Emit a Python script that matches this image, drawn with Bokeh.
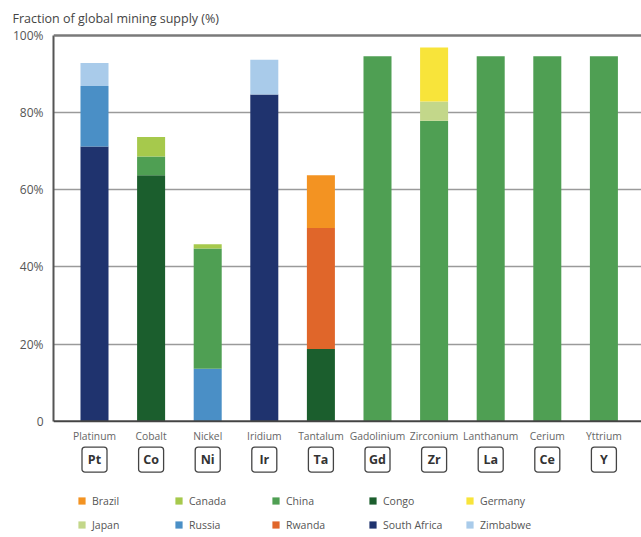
from bokeh.plotting import figure
from bokeh.models import (ColumnDataSource, FixedTicker, Range1d, Span,
                          Legend, LegendItem)
from bokeh.core.properties import value
from bokeh.embed import file_html
from bokeh.resources import INLINE

# ---------------- data ----------------
elements = ["Platinum", "Cobalt", "Nickel", "Iridium", "Tantalum",
            "Gadolinium", "Zirconium", "Lanthanum", "Cerium", "Yttrium"]
symbols = ["Pt", "Co", "Ni", "Ir", "Ta", "Gd", "Zr", "La", "Ce", "Y"]

south_africa = [71.2, 0, 0, 84.7, 0, 0, 0, 0, 0, 0]
congo        = [0, 63.8, 0, 0, 18.7, 0, 0, 0, 0, 0]
russia       = [15.7, 0, 13.6, 0, 0, 0, 0, 0, 0, 0]
china        = [0, 4.8, 31.2, 0, 0, 94.6, 77.9, 94.6, 94.6, 94.6]
rwanda       = [0, 0, 0, 0, 31.4, 0, 0, 0, 0, 0]
japan        = [0, 0, 0, 0, 0, 0, 5.0, 0, 0, 0]
canada       = [0, 5.1, 1.1, 0, 0, 0, 0, 0, 0, 0]
brazil       = [0, 0, 0, 0, 13.7, 0, 0, 0, 0, 0]
germany      = [0, 0, 0, 0, 0, 0, 14.0, 0, 0, 0]
zimbabwe     = [6.0, 0, 0, 9.0, 0, 0, 0, 0, 0, 0]

y_ticks = [0, 20, 40, 60, 80, 100]
y_tick_labels = ["0", "20%", "40%", "60%", "80%", "100%"]

legend_order = ["Brazil", "Canada", "China", "Congo", "Germany",
                "Japan", "Russia", "Rwanda", "South Africa", "Zimbabwe"]

# stacking order (bottom to top) and colours
stack_names = ["South Africa", "Congo", "Russia", "China", "Rwanda",
               "Japan", "Canada", "Brazil", "Germany", "Zimbabwe"]
stack_values = [south_africa, congo, russia, china, rwanda,
                japan, canada, brazil, germany, zimbabwe]
colors = {
    "Brazil": "#f39322",
    "Canada": "#a6c94c",
    "China": "#4f9f53",
    "Congo": "#1b5e2d",
    "Germany": "#f8e43a",
    "Japan": "#c3d78a",
    "Russia": "#4a8fc6",
    "Rwanda": "#e0662a",
    "South Africa": "#1f336e",
    "Zimbabwe": "#a9cbea",
}

# ---------------- layout constants ----------------
W, H = 641, 537
frame_left = 53
frame_top = 32
first_center = 94.0
pitch = 56.6
y0_px, y100_px = 420.5, 34.0
ppu = (y0_px - y100_px) / 100.0

x_start = (frame_left - first_center) / pitch
x_end = (W - first_center) / pitch
y_end = 100 + (y100_px - frame_top) / ppu
y_start = -(H - y0_px) / ppu

def ydata(px):
    return (y0_px - px) / ppu

xs = list(range(len(elements)))
data = {"x": xs, "name": elements, "sym": symbols}
for n, v in zip(stack_names, stack_values):
    data[n] = v
source = ColumnDataSource(data)

FONT = "Open Sans"

p = figure(width=W, height=H, output_backend="svg", toolbar_location=None,
           x_range=Range1d(x_start, x_end), y_range=Range1d(y_start, y_end),
           x_axis_location=None, min_border_left=frame_left, min_border_right=0,
           min_border_top=frame_top, min_border_bottom=0,
           title="Fraction of global mining supply (%)")
p.title.align = "left"
p.title.offset = 12 - frame_left
p.title.standoff = 14
p.title.text_font = FONT
p.title.text_font_size = "12.5px"
p.title.text_font_style = "normal"
p.title.text_color = "#444444"

p.outline_line_color = None
p.xgrid.visible = False
p.background_fill_color = "white"
p.border_fill_color = "white"

# grid
p.ygrid.ticker = FixedTicker(ticks=y_ticks[1:-1])
p.ygrid.grid_line_color = "#9a9a9a"
p.ygrid.grid_line_width = 1.5

# y axis
ax = p.yaxis[0]
ax.ticker = FixedTicker(ticks=y_ticks)
ax.major_label_overrides = {t: l for t, l in zip(y_ticks, y_tick_labels)}
ax.bounds = (0, 100)
ax.axis_line_color = "#555555"
ax.axis_line_width = 2
ax.major_tick_line_color = None
ax.minor_tick_line_color = None
ax.major_label_standoff = 4
ax.major_label_text_font = FONT
ax.major_label_text_font_size = "12px"
ax.major_label_text_color = "#555555"

# bars
renderers = p.vbar_stack(stack_names, x="x", width=0.495, source=source,
                         color=[colors[n] for n in stack_names],
                         line_color=None)
rmap = dict(zip(stack_names, renderers))

# top and bottom lines
p.add_layout(Span(location=100, dimension="width", line_color="#7a7a7a", line_width=2.5))
p.add_layout(Span(location=0, dimension="width", line_color="#444444", line_width=1.8))

# element names
p.text(x="x", y=ydata(435), text="name", source=source, text_align="center",
       text_baseline="middle", text_font=value(FONT), text_font_size="10.3px",
       text_color="#666666")

# element symbol boxes
box = p.rect(x="x", y=ydata(459), width=25, height=25, width_units="screen",
             height_units="screen", source=source, fill_color=None,
             line_color="#444444", line_width=1.3)
try:
    box.glyph.border_radius = 3
except Exception:
    pass
p.text(x="x", y=ydata(459), text="sym", source=source, text_align="center",
       text_baseline="middle", text_font=value(FONT), text_font_size="12.5px",
       text_font_style="bold", text_color="#333333")

# legend
items = [LegendItem(label=n, renderers=[rmap[n]]) for n in legend_order]
legend = Legend(items=items, orientation="horizontal", nrows=2,
                location=(77 - frame_left, 3),
                glyph_width=9, glyph_height=9, label_width=77, label_height=19,
                spacing=5, label_standoff=6, padding=0, margin=0,
                border_line_color=None, background_fill_alpha=0,
                label_text_font=FONT, label_text_font_size="10.5px",
                label_text_color="#555555")
p.add_layout(legend, "center")

open("out.html", "w").write(file_html(p, INLINE))
